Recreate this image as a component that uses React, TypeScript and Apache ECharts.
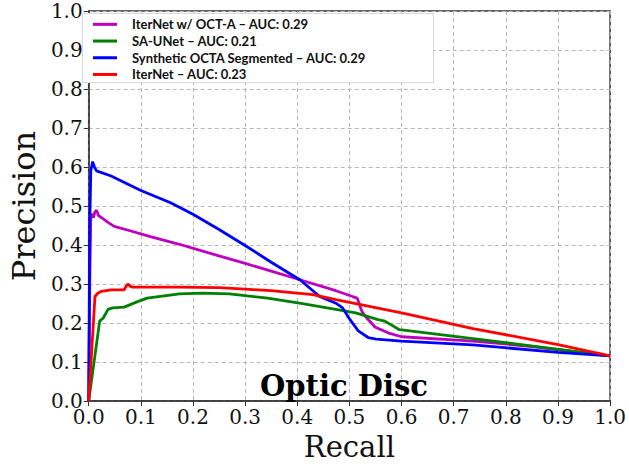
import React, { useEffect, useRef } from "react";
import * as echarts from "echarts";

const seriesNames = [
  "IterNet w/ OCT-A – AUC: 0.29",
  "SA-UNet – AUC: 0.21",
  "Synthetic OCTA Segmented – AUC: 0.29",
  "IterNet – AUC: 0.23",
];
const seriesColors = ["#bf00bf", "#008000", "#0000ff", "#ff0000"];

const iterOctRecall = [0, 0.002, 0.004, 0.006, 0.009, 0.012, 0.015, 0.019, 0.025, 0.037, 0.049, 0.081, 0.12, 0.174, 0.23, 0.30, 0.35, 0.405, 0.474, 0.506, 0.515, 0.524, 0.53, 0.549, 0.574, 0.6, 0.737, 0.85, 1.0];
const iterOctPrecision = [0, 0.3, 0.47, 0.48, 0.47, 0.485, 0.489, 0.475, 0.47, 0.458, 0.448, 0.436, 0.421, 0.402, 0.38, 0.353, 0.333, 0.311, 0.283, 0.268, 0.264, 0.23, 0.218, 0.19, 0.175, 0.165, 0.154, 0.14, 0.116];

const saUnetRecall = [0, 0.021, 0.028, 0.037, 0.046, 0.068, 0.09, 0.112, 0.174, 0.218, 0.27, 0.343, 0.41, 0.474, 0.512, 0.555, 0.568, 0.596, 0.737, 0.87, 1.0];
const saUnetPrecision = [0, 0.205, 0.213, 0.235, 0.239, 0.241, 0.253, 0.264, 0.275, 0.277, 0.275, 0.264, 0.25, 0.235, 0.226, 0.209, 0.205, 0.183, 0.16, 0.138, 0.116];

const synthRecall = [0, 0.002, 0.004, 0.0075, 0.011, 0.015, 0.043, 0.10, 0.156, 0.2, 0.25, 0.30, 0.35, 0.405, 0.443, 0.474, 0.487, 0.499, 0.517, 0.536, 0.552, 0.60, 0.737, 0.9, 1.0];
const synthPrecision = [0, 0.45, 0.59, 0.614, 0.6, 0.59, 0.577, 0.54, 0.509, 0.479, 0.44, 0.399, 0.356, 0.311, 0.268, 0.251, 0.239, 0.213, 0.18, 0.163, 0.159, 0.154, 0.144, 0.125, 0.116];

const iterRecall = [0, 0.012, 0.018, 0.024, 0.043, 0.068, 0.072, 0.075, 0.08, 0.084, 0.12, 0.174, 0.25, 0.30, 0.35, 0.43, 0.474, 0.6, 0.737, 0.9, 1.0];
const iterPrecision = [0, 0.268, 0.277, 0.281, 0.285, 0.285, 0.295, 0.30, 0.294, 0.292, 0.292, 0.292, 0.291, 0.287, 0.283, 0.273, 0.26, 0.226, 0.186, 0.145, 0.116];

const recalls = [iterOctRecall, saUnetRecall, synthRecall, iterRecall];
const precisions = [iterOctPrecision, saUnetPrecision, synthPrecision, iterPrecision];

const SERIF = "'DejaVu Serif', serif";

export default function App() {
  const ref = useRef<HTMLDivElement>(null);
  useEffect(() => {
    if (!ref.current) return;
    const chart = echarts.init(ref.current, undefined, { renderer: "svg" });
    const axisCommon = {
      type: "value" as const,
      min: 0,
      max: 1,
      interval: 0.1,
      axisLine: { show: true, lineStyle: { color: "#333", width: 1.5 } },
      axisTick: { show: true, inside: false, length: 5, lineStyle: { color: "#333", width: 1 } },
      splitLine: { show: true, lineStyle: { color: "#b8b8b8", width: 1, type: [4, 3] as any } },
      axisLabel: {
        fontFamily: SERIF,
        fontSize: 20,
        color: "#111",
        formatter: (v: number) => v.toFixed(1),
      },
      nameLocation: "middle" as const,
    };
    chart.setOption({
      animation: false,
      backgroundColor: "#fff",
      grid: {
        left: 77,
        right: 18,
        top: 11,
        bottom: 60,
        show: true,
        borderColor: "#333",
        borderWidth: 1.5,
        containLabel: false,
      },
      xAxis: {
        ...axisCommon,
        name: "Recall",
        nameGap: 30,
        nameTextStyle: { fontFamily: SERIF, fontSize: 29, color: "#111" },
        axisLabel: { ...axisCommon.axisLabel, margin: 6 },
      },
      yAxis: {
        ...axisCommon,
        name: "Precision",
        nameGap: 45,
        nameTextStyle: { fontFamily: SERIF, fontSize: 32, color: "#111" },
        axisLabel: { ...axisCommon.axisLabel, margin: 6 },
      },
      legend: {
        orient: "vertical",
        left: 88,
        top: 11,
        itemGap: 0,
        itemWidth: 24,
        itemHeight: 3,
        icon: "rect",
        data: seriesNames,
        textStyle: {
          fontFamily: "Lato, 'Open Sans', sans-serif",
          fontWeight: "bold",
          fontSize: 13,
          color: "#111",
          lineHeight: 16.7,
          padding: [0, 0, 0, 10],
        },
      },
      graphic: [
        {
          type: "rect",
          z: 3,
          shape: { x: 82.5, y: 13.5, width: 351, height: 69 },
          style: { fill: "#fff", stroke: "#d8d8d8", lineWidth: 1 },
        },
        {
          type: "text",
          z: 5,
          x: 344,
          y: 386,
          style: {
            text: "Optic Disc",
            fontFamily: SERIF,
            fontWeight: "bold",
            fontSize: 29,
            fill: "#000",
            align: "center",
            verticalAlign: "middle",
          },
        },
      ],
      series: seriesNames.map((name, i) => ({
        name,
        type: "line",
        showSymbol: false,
        symbol: "none",
        color: seriesColors[i],
        lineStyle: { color: seriesColors[i], width: 2.8 },
        data: recalls[i].map((r, j) => [r, precisions[i][j]]),
      })),
    });
    return () => chart.dispose();
  }, []);
  return (
    <div
      ref={ref}
      style={{ position: "fixed", left: 0, top: 0, width: 629, height: 466 }}
    />
  );
}
